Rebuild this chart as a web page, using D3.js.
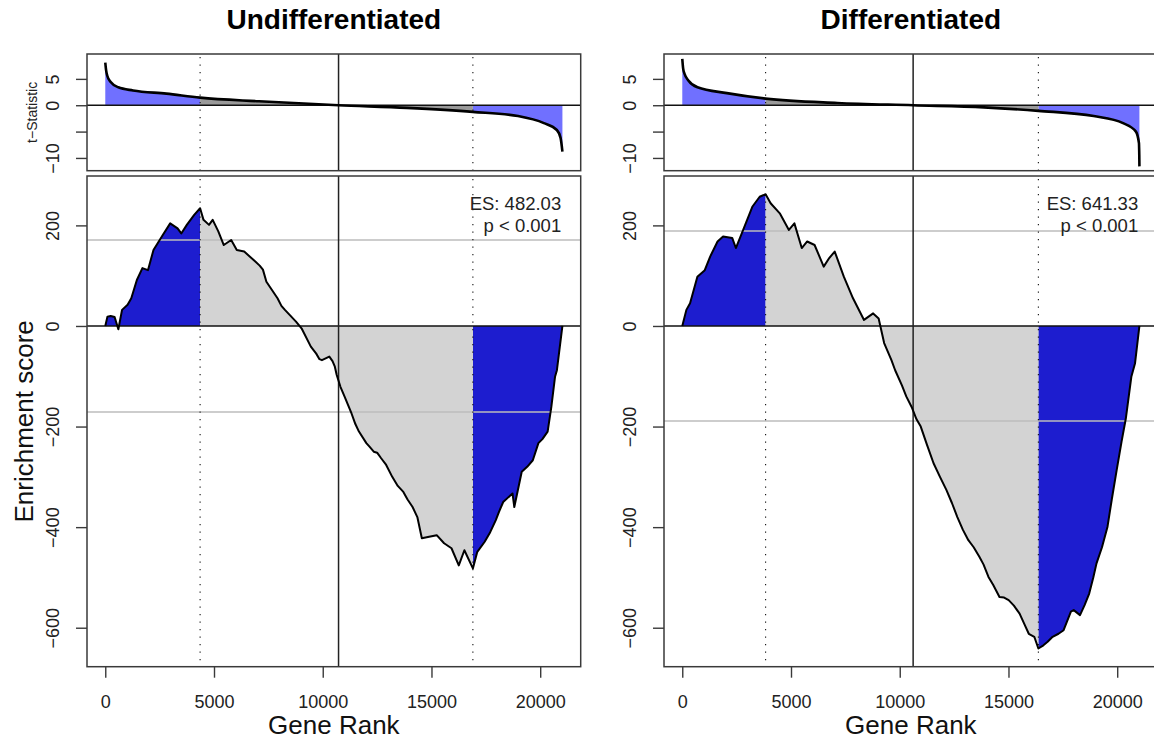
<!DOCTYPE html>
<html>
<head>
<meta charset="utf-8">
<script src="https://cdn.jsdelivr.net/npm/d3@7"></script>
<style>
  body { margin: 0; background: #fff; }
  svg { display: block; font-family: "Liberation Sans", Arial, Helvetica, sans-serif; }
</style>
</head>
<body>
<svg id="chart" width="1154" height="740"></svg>
<script>
// ---- data ----
const panelTitles = ['Undifferentiated', 'Differentiated'];
const nGenes = 21021;
const esLabels = ['ES: 482.03', 'ES: 641.33'];
const pLabels = ['p < 0.001', 'p < 0.001'];
const zeroCross = [10727, 10616];          // rank where t changes sign
const leadingEdge = [[4361, 16904], [3832, 16375]];
const nullBand = [171, 189];               // +/- grey reference lines

const xTicks = [0, 5000, 10000, 15000, 20000];
const esTicks = [-600, -400, -200, 0, 200];
const tTicks = [-10, -5, 0, 5];
const tTickLabels = ['\u221210', '', '0', '5'];

const undiffRank = [1, 100, 250, 430, 602, 772, 1027, 1197, 1453, 1708, 1963, 2217, 2645, 2985, 3325,
  3495, 3750, 4090, 4361, 4517, 4770, 4940, 5198, 5450, 5791, 6048, 6389, 6900, 7100, 7250, 7410, 7921,
  8100, 8261, 8771, 9025, 9453, 9700, 9850, 9963, 10303, 10450, 10557, 10643, 10814, 11000, 11324, 11500,
  11665, 12005, 12150, 12346, 12500, 12686, 12900, 13196, 13450, 13707, 13900, 14131, 14350, 14557,
  14894, 15240, 15580, 15920, 16256, 16513, 16904, 17107, 17447, 17700, 17958, 18100, 18298, 18726,
  18809, 19150, 19400, 19660, 19917, 20100, 20341, 20512, 20681, 20768, 21021];
const undiffES = [0, 18.6, 20, 18, -6.6, 32, 42, 55, 91.5, 115, 111, 151, 181, 204, 194,
  184, 201, 221, 234, 211, 201, 211, 188, 161, 171, 151, 148, 128, 120, 112, 88, 55,
  40, 32, 8.6, -4.6, -41, -55, -66, -68, -61, -70, -81, -97.5, -121, -140, -174, -195,
  -210, -233, -240, -250, -252, -263, -275, -300, -318, -330, -345, -360, -380, -422,
  -419, -416, -432, -442, -476, -446, -482.03, -449, -429, -410, -386, -370, -350, -333,
  -360, -290, -280, -267, -233, -225, -210, -161, -101, -88, 0];

const diffRank = [1, 189, 359, 695, 1035, 1283, 1623, 1877, 2296, 2465, 2801, 3221, 3560, 3832, 4063,
  4484, 4903, 5156, 5495, 5745, 6085, 6504, 6757, 7010, 7429, 7851, 8357, 8777, 9030, 9283, 9618, 9789,
  10100, 10300, 10547, 10766, 10966, 11250, 11555, 11850, 12144, 12400, 12649, 12900, 13155, 13400,
  13661, 13850, 14080, 14300, 14586, 14800, 15009, 15250, 15511, 15700, 15934, 16187, 16375, 16606,
  16800, 17029, 17300, 17535, 17870, 18000, 18289, 18500, 18712, 18900, 19048, 19300, 19554, 19750,
  19973, 20200, 20396, 20649, 20820, 21021];
const diffES = [0, 32, 45, 98, 111, 138, 168, 178, 175, 155, 191, 237, 257, 262, 244,
  224, 191, 204, 155, 168, 161, 118, 135, 148, 98, 55, 12, 25, 15, -34, -68, -88,
  -118, -140, -161, -185, -200, -236, -273, -300, -326, -352, -380, -405, -426, -440,
  -459, -474, -499, -515, -539, -540, -545, -556, -572, -590, -612, -618, -641.33, -635,
  -628, -618, -612, -605, -568, -565, -575, -555, -532, -500, -472, -440, -399, -345,
  -287, -230, -184, -101, -74, 0];

const undiffTRank = [1, 40, 92, 250, 600, 1280, 2810, 4361, 7070, 10727, 13870, 16904, 18980, 20170,
  20766, 20936, 21021];
const undiffT = [8.1, 6.6, 5.6, 4.4, 3.4, 2.8, 2.2, 1.44, 0.75, 0, -0.5, -1.26, -2.06, -3.4,
  -4.7, -6.2, -8.8];
const diffTRank = [1, 40, 110, 280, 700, 2050, 3832, 7130, 10616, 13870, 16375, 18920, 20270, 20860,
  21000, 21010, 21015, 21018, 21021];
const diffT = [8.8, 7.0, 5.9, 4.7, 3.4, 2.3, 1.26, 0.43, 0, -0.4, -1.07, -2.06, -3.4, -5,
  -7.2, -8.5, -9.5, -10.5, -11.6];

const esSeries = [[undiffRank, undiffES], [diffRank, diffES]];
const tSeries = [[undiffTRank, undiffT], [diffTRank, diffT]];

// ---- layout ----
const W = 1154;
const H = 740;
const panelLeft = [87, 664];
const panelWidth = 493.7;
const tTop = 54;
const tBottom = 170.7;
const esTop = 176;
const esBottom = 666.7;
const tDomain = [-12.42, 9.72];
const esDomain = [-677.5, 298.2];
const blue = '#1d1dcf';
const grey = '#d3d3d3';
const boxColor = '#3a3a3a';

const svg = d3.select('#chart');
svg.append('rect').attr('width', W).attr('height', H).attr('fill', '#fff');
const defs = svg.append('defs');

function drawPanel(i) {
  const left = panelLeft[i];
  const right = left + panelWidth;
  const pad = 0.04 * (nGenes - 1);
  const x = d3.scaleLinear().domain([1 - pad, nGenes + pad]).range([left, right]);
  const yT = d3.scaleLinear().domain(tDomain).range([tBottom, tTop]);
  const yE = d3.scaleLinear().domain(esDomain).range([esBottom, esTop]);
  const [lo, hi] = leadingEdge[i];

  // clip regions: whole panel boxes, leading edge, middle
  defs.append('clipPath').attr('id', `box-${i}`)
    .call((c) => {
      c.append('rect').attr('x', left).attr('y', tTop).attr('width', panelWidth).attr('height', tBottom - tTop);
      c.append('rect').attr('x', left).attr('y', esTop).attr('width', panelWidth).attr('height', esBottom - esTop);
    });
  defs.append('clipPath').attr('id', `lead-${i}`)
    .call((c) => {
      c.append('rect').attr('x', left).attr('y', 0).attr('width', x(lo) - left).attr('height', H);
      c.append('rect').attr('x', x(hi)).attr('y', 0).attr('width', right - x(hi)).attr('height', H);
    });
  defs.append('clipPath').attr('id', `mid-${i}`)
    .append('rect').attr('x', x(lo)).attr('y', 0).attr('width', x(hi) - x(lo)).attr('height', H);

  const g = svg.append('g').attr('clip-path', `url(#box-${i})`);

  // ---- t-statistic strip ----
  const [tr, tv] = tSeries[i];
  const tPts = tr.map((r, k) => [r, tv[k]]);
  const tArea = d3.area().curve(d3.curveMonotoneX)
    .x((d) => x(d[0])).y0(yT(0)).y1((d) => yT(d[1]));
  g.append('path').datum(tPts).attr('d', tArea)
    .attr('fill', '#7070ff').attr('clip-path', `url(#lead-${i})`);
  g.append('path').datum(tPts).attr('d', tArea)
    .attr('fill', '#9a9a9a').attr('clip-path', `url(#mid-${i})`);

  // ---- enrichment score ----
  const [er, ev] = esSeries[i];
  const ePts = er.map((r, k) => [r, ev[k]]);
  const eArea = d3.area().x((d) => x(d[0])).y0(yE(0)).y1((d) => yE(d[1]));
  g.append('path').datum(ePts).attr('d', eArea)
    .attr('fill', blue).attr('clip-path', `url(#lead-${i})`);
  g.append('path').datum(ePts).attr('d', eArea)
    .attr('fill', grey).attr('clip-path', `url(#mid-${i})`);

  // grey null band lines
  [nullBand[i], -nullBand[i]].forEach((v) => {
    g.append('line').attr('x1', left).attr('x2', right)
      .attr('y1', yE(v)).attr('y2', yE(v))
      .attr('stroke', '#bdbdbd').attr('stroke-width', 1.5);
  });

  // zero lines
  g.append('line').attr('x1', left).attr('x2', right).attr('y1', yT(0)).attr('y2', yT(0))
    .attr('stroke', '#111').attr('stroke-width', 1.4);
  g.append('line').attr('x1', left).attr('x2', right).attr('y1', yE(0)).attr('y2', yE(0))
    .attr('stroke', '#111').attr('stroke-width', 1.4);

  // vertical markers
  [[tTop, tBottom], [esTop, esBottom]].forEach(([y0, y1]) => {
    g.append('line').attr('x1', x(zeroCross[i])).attr('x2', x(zeroCross[i]))
      .attr('y1', y0).attr('y2', y1).attr('stroke', '#222').attr('stroke-width', 1.5);
    [lo, hi].forEach((r) => {
      g.append('line').attr('x1', x(r)).attr('x2', x(r))
        .attr('y1', y0 + 3).attr('y2', y1)
        .attr('stroke', '#111').attr('stroke-width', 1.1)
        .attr('stroke-dasharray', '1.2,6.3');
    });
  });

  // curves on top
  g.append('path').datum(tPts)
    .attr('d', d3.line().curve(d3.curveMonotoneX).x((d) => x(d[0])).y((d) => yT(d[1])))
    .attr('fill', 'none').attr('stroke', '#000').attr('stroke-width', 2.6);
  g.append('path').datum(ePts)
    .attr('d', d3.line().x((d) => x(d[0])).y((d) => yE(d[1])))
    .attr('fill', 'none').attr('stroke', '#000').attr('stroke-width', 2)
    .attr('stroke-linejoin', 'round');

  // boxes
  [[tTop, tBottom], [esTop, esBottom]].forEach(([y0, y1]) => {
    svg.append('rect').attr('x', left).attr('y', y0)
      .attr('width', panelWidth).attr('height', y1 - y0)
      .attr('fill', 'none').attr('stroke', boxColor).attr('stroke-width', 1.5);
  });

  // axes
  const styleAxis = (a) => {
    a.select('.domain').remove();
    a.selectAll('line').attr('stroke', boxColor).attr('stroke-width', 1.4);
    a.selectAll('text').attr('fill', '#222').attr('font-size', 18);
  };
  const rotLabels = (a) => {
    a.selectAll('text')
      .attr('transform', 'rotate(-90)')
      .attr('x', 0).attr('y', -28).attr('dy', 0)
      .attr('text-anchor', 'middle');
  };

  svg.append('g').attr('transform', `translate(${left},0)`)
    .call(d3.axisLeft(yT).tickValues(tTicks).tickSize(11)
      .tickFormat((d, k) => tTickLabels[k]))
    .call(styleAxis).call(rotLabels);

  svg.append('g').attr('transform', `translate(${left},0)`)
    .call(d3.axisLeft(yE).tickValues(esTicks).tickSize(11).tickFormat(d3.format('d')))
    .call(styleAxis).call(rotLabels);

  svg.append('g').attr('transform', `translate(0,${esBottom})`)
    .call(d3.axisBottom(x).tickValues(xTicks).tickSize(11).tickFormat(d3.format('d')))
    .call(styleAxis)
    .call((a) => a.selectAll('text').attr('y', 41.5).attr('dy', 0));

  // texts
  const cx = left + panelWidth / 2;
  svg.append('text').attr('x', cx).attr('y', 28.5)
    .attr('text-anchor', 'middle').attr('font-size', 28).attr('font-weight', 'bold')
    .attr('fill', '#000').text(panelTitles[i]);
  svg.append('text').attr('x', cx).attr('y', 734)
    .attr('text-anchor', 'middle').attr('font-size', 26).attr('fill', '#111')
    .text('Gene Rank');
  svg.append('text').attr('x', right - 19.5).attr('y', 209.5)
    .attr('text-anchor', 'end').attr('font-size', 18.5).attr('fill', '#222')
    .text(esLabels[i]);
  svg.append('text').attr('x', right - 19.5).attr('y', 231.5)
    .attr('text-anchor', 'end').attr('font-size', 18.5).attr('fill', '#222')
    .text(pLabels[i]);
}

panelTitles.forEach((_t, i) => drawPanel(i));

// y labels (left panel only)
svg.append('text')
  .attr('transform', `translate(33,${(esTop + esBottom) / 2}) rotate(-90)`)
  .attr('text-anchor', 'middle').attr('font-size', 26).attr('fill', '#111')
  .text('Enrichment score');
svg.append('text')
  .attr('transform', `translate(37,${(tTop + tBottom) / 2}) rotate(-90)`)
  .attr('text-anchor', 'middle').attr('font-size', 14).attr('fill', '#222')
  .text('t\u2212Statistic');
</script>
</body>
</html>
